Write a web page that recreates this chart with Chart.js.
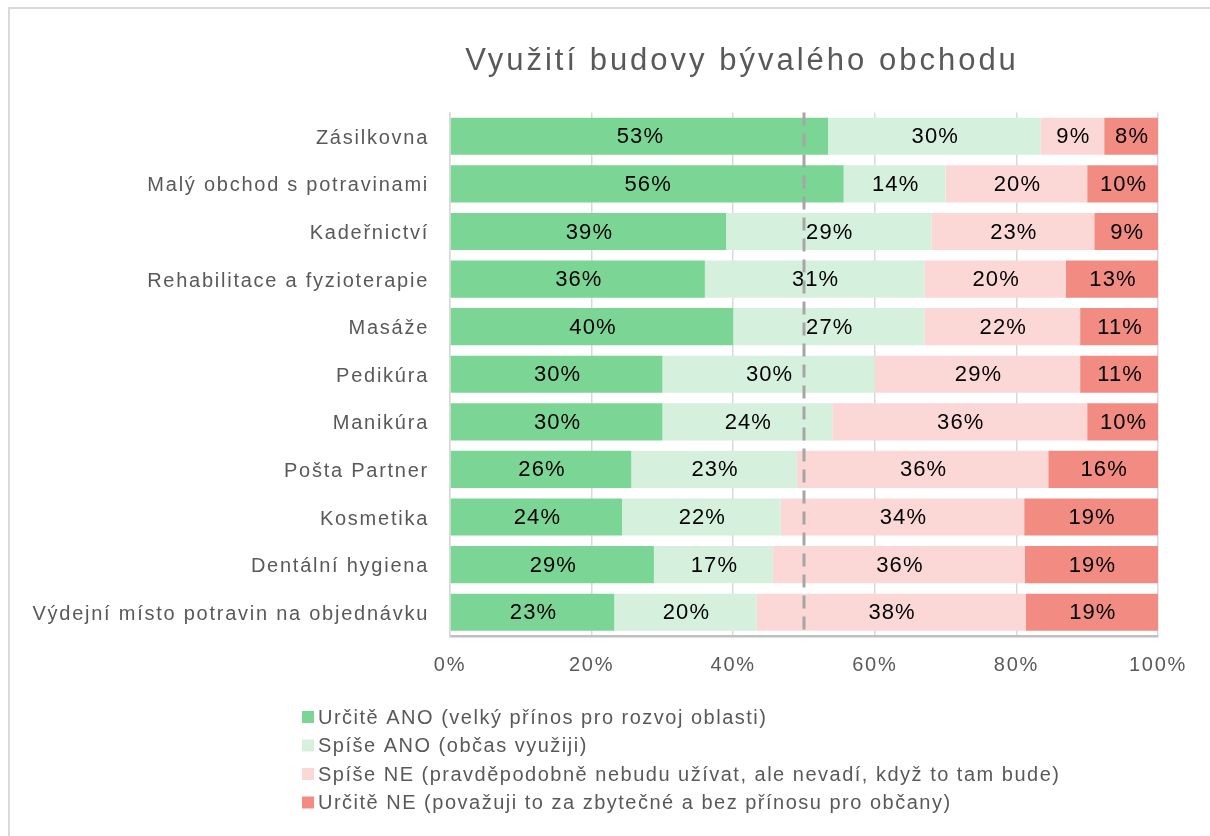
<!DOCTYPE html>
<html>
<head>
<meta charset="utf-8">
<script src="https://cdn.jsdelivr.net/npm/chart.js@4"></script>
<style>
  html, body { margin: 0; padding: 0; background: #fff; overflow: hidden; }
  #wrap { position: relative; width: 1210px; height: 836px; }
  #ramecek { position: absolute; left: 8px; top: 7px; width: 1300px; height: 900px;
             border: 2px solid #d9d9d9; box-sizing: border-box; }
  canvas { position: absolute; left: 0; top: 0; }
</style>
</head>
<body>
<div id="wrap">
  <div id="ramecek"></div>
  <canvas id="graf" width="1210" height="836"></canvas>
</div>
<script>
// kategorie (odshora dolu)
const kategorie = [
  'Zásilkovna',
  'Malý obchod s potravinami',
  'Kadeřnictví',
  'Rehabilitace a fyzioterapie',
  'Masáže',
  'Pedikúra',
  'Manikúra',
  'Pošta Partner',
  'Kosmetika',
  'Dentální hygiena',
  'Výdejní místo potravin na objednávku'
];

// podíly odpovědí v %
const urciteAno = [53.4, 55.6, 39, 36, 40, 30, 30, 25.6, 24.3, 28.8, 23.2];
const spiseAno  = [30.0, 14.4, 29, 31, 27, 30, 24, 23.4, 22.4, 16.8, 20.1];
const spiseNe   = [ 9.0, 20.0, 23, 20, 22, 29, 36, 35.5, 34.4, 35.6, 38.0];
const urciteNe  = [ 7.6, 10.0,  9, 13, 11, 11, 10, 15.5, 18.9, 18.8, 18.7];

const nazvyRad = [
  'Určitě ANO (velký přínos pro rozvoj oblasti)',
  'Spíše ANO (občas využiji)',
  'Spíše NE (pravděpodobně nebudu užívat, ale nevadí, když to tam bude)',
  'Určitě NE (považuji to za zbytečné a bez přínosu pro občany)'
];
const barvy = ['#7bd695', '#d5f0dc', '#fbd7d5', '#f28b82'];

const xTicky = [0, 20, 40, 60, 80, 100];
const hranice = 50; // svislá čárkovaná čára

const PISMO = '"Liberation Sans", Arial, sans-serif';
const SEDA = '#595959';

// popisky hodnot uvnitř segmentů, čára 50 %, titulek a legenda
const popiskyPlugin = {
  id: 'popisky',
  beforeDraw(chart) {
    // Excel kreslí písmo znatelně řidčeji
    chart.ctx.letterSpacing = '1.75px';
  },
  afterDatasetsDraw(chart) {
    const ctx = chart.ctx;
    ctx.save();
    ctx.font = '22px ' + PISMO;
    ctx.letterSpacing = '1.1px';
    ctx.fillStyle = '#000';
    ctx.textAlign = 'center';
    ctx.textBaseline = 'middle';
    chart.data.datasets.forEach((ds, i) => {
      const meta = chart.getDatasetMeta(i);
      meta.data.forEach((el, j) => {
        const stred = (el.x + el.base) / 2;
        ctx.fillText(Math.round(ds.data[j]) + '%', stred + 1, el.y + 1);
      });
    });

    // čárkovaná čára na 50 %
    const x = chart.scales.x.getPixelForValue(hranice);
    ctx.strokeStyle = '#a6a6a6';
    ctx.lineWidth = 3;
    ctx.setLineDash([13, 8]);
    ctx.beginPath();
    ctx.moveTo(x, chart.chartArea.top);
    ctx.lineTo(x, chart.chartArea.bottom - 4);
    ctx.stroke();
    ctx.restore();
  },
  afterDraw(chart) {
    const ctx = chart.ctx;
    ctx.save();
    // titulek
    ctx.font = '31px ' + PISMO;
    ctx.letterSpacing = '3px';
    ctx.fillStyle = SEDA;
    ctx.textAlign = 'center';
    ctx.textBaseline = 'middle';
    ctx.fillText('Využití budovy bývalého obchodu', 742, 61);

    // legenda pod sebou
    ctx.font = '20px ' + PISMO;
    ctx.letterSpacing = '1.5px';
    ctx.textAlign = 'left';
    chart.data.datasets.forEach((ds, i) => {
      const y = 717 + i * 28.5;
      ctx.fillStyle = ds.backgroundColor;
      ctx.fillRect(302, y - 6, 12, 12);
      ctx.fillStyle = SEDA;
      ctx.fillText(ds.label, 318, y + 1);
    });
    ctx.restore();
  }
};

const rady = [urciteAno, spiseAno, spiseNe, urciteNe];

new Chart(document.getElementById('graf'), {
  type: 'bar',
  data: {
    labels: kategorie,
    datasets: rady.map((d, i) => ({
      label: nazvyRad[i],
      data: d,
      backgroundColor: barvy[i],
      borderWidth: 0,
      barPercentage: 0.78,
      categoryPercentage: 1.0
    }))
  },
  options: {
    indexAxis: 'y',
    responsive: false,
    animation: false,
    layout: { padding: { left: 10, right: 52, top: 112.5, bottom: 0 } },
    plugins: {
      legend: { display: false },
      title: { display: false },
      tooltip: { enabled: false }
    },
    scales: {
      x: {
        stacked: true,
        min: 0,
        max: 100,
        afterBuildTicks(scale) {
          scale.ticks = xTicky.map(v => ({ value: v }));
        },
        afterFit(scale) { scale.height = 200; },
        ticks: {
          callback: v => v + '%',
          color: SEDA,
          font: { family: PISMO, size: 20 },
          padding: 17
        },
        grid: { color: '#d9d9d9', lineWidth: 1.5, drawTicks: false },
        border: { color: '#bfbfbf', width: 2.5 }
      },
      y: {
        stacked: true,
        afterFit(scale) { scale.width = 440; },
        ticks: {
          color: SEDA,
          font: { family: PISMO, size: 20 },
          padding: 21,
          labelOffset: 2
        },
        grid: { display: false, drawTicks: false },
        border: { color: '#d9d9d9', width: 1.5 }
      }
    }
  },
  plugins: [popiskyPlugin]
});
</script>
</body>
</html>
